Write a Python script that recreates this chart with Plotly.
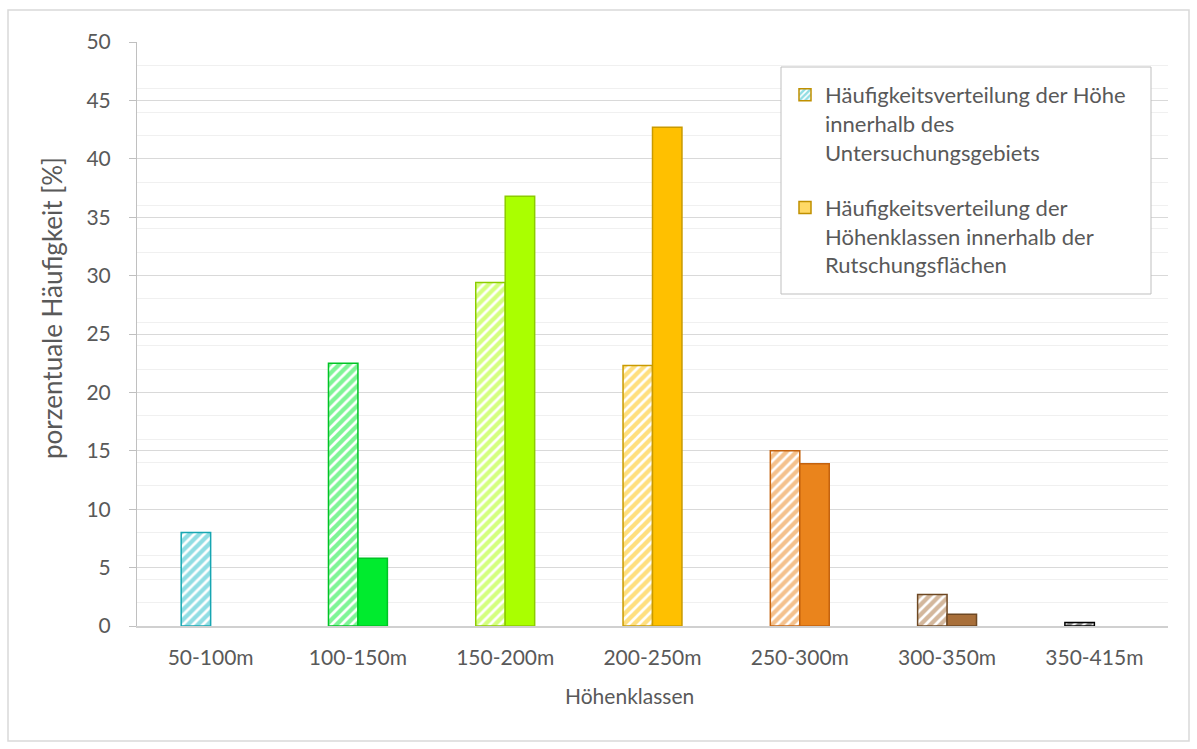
import plotly.graph_objects as go

# Höhenklassen (elevation classes) and the two frequency distributions in %
klassen = ["50-100m", "100-150m", "150-200m", "200-250m", "250-300m", "300-350m", "350-415m"]
gebiet = [8.0, 22.5, 29.4, 22.3, 15.0, 2.7, 0.3]      # whole study area
rutschung = [0.0, 5.8, 36.8, 42.7, 13.9, 1.0, 0.0]    # landslide areas

# one colour per elevation class (fill / outline)
fill_colors = ["#21BCC8", "#00EB2E", "#AAFF00", "#FFC000", "#EA841C", "#A86F3A", "#1A1A1A"]
line_colors = ["#17A6B2", "#00C425", "#8CCC00", "#C99A00", "#C4620E", "#6E4823", "#000000"]

legend_names = [
    "Häufigkeitsverteilung der Höhe<br>innerhalb des<br>Untersuchungsgebiets",
    "Häufigkeitsverteilung der<br>Höhenklassen innerhalb der<br>Rutschungsflächen",
]

FONT = "Lato"
TXT = "#595959"
W, H = 1197, 749
L, R, T, B = 137, 1168, 42, 626


def px_x(p):
    return (p - L) / (R - L)


def px_y(p):
    return (B - p) / (B - T)


hatch = dict(shape="/", bgcolor="white", size=7, solidity=0.62, fillmode="overlay")

fig = go.Figure()

fig.add_trace(go.Bar(
    x=klassen, y=[v if v else None for v in gebiet], offsetgroup="a",
    marker=dict(color="white",
                line=dict(color=line_colors, width=1.5),
                pattern=dict(fgcolor=fill_colors, **hatch)),
    showlegend=False, hoverinfo="x+y",
))
fig.add_trace(go.Bar(
    x=klassen, y=[v if v else None for v in rutschung], offsetgroup="b",
    marker=dict(color=fill_colors, line=dict(color=line_colors, width=1.5)),
    showlegend=False, hoverinfo="x+y",
))

# legend entries
fig.add_trace(go.Bar(
    x=[klassen[0]], y=[None], name=legend_names[0], legendgroup="a", offsetgroup="a",
    marker=dict(color="white", line=dict(color="#C09000", width=1.5),
                pattern=dict(fgcolor="#21BCC8", **{**hatch, "size": 5})),
))
fig.add_trace(go.Bar(
    x=[klassen[0]], y=[None], name=legend_names[1], legendgroup="b", offsetgroup="b",
    marker=dict(color="#FFD966", line=dict(color="#C09000", width=1.5)),
))

fig.update_layout(
    width=W, height=H,
    margin=dict(l=L, r=W - R, t=T, b=H - B),
    paper_bgcolor="white", plot_bgcolor="white",
    font=dict(family=FONT, size=21, color=TXT),
    barmode="group", bargap=0.6, bargroupgap=0,
    legend=dict(
        x=px_x(785), y=px_y(74), xanchor="left", yanchor="top",
        bgcolor="rgba(0,0,0,0)", borderwidth=0,
        font=dict(family=FONT, size=22, color=TXT),
        tracegroupgap=24, traceorder="grouped", valign="top",
    ),
    xaxis=dict(
        showline=True, linecolor="#D0D0D0", linewidth=1.5,
        ticks="", ticklabelstandoff=12, showgrid=False,
        tickfont=dict(family=FONT, size=21, color=TXT),
    ),
    yaxis=dict(
        range=[0, 50], dtick=5, tick0=0,
        showline=True, linecolor="#C0C0C0", linewidth=1,
        ticks="outside", ticklen=7, tickcolor="#C0C0C0",
        ticklabelstandoff=14,
        showgrid=True, gridcolor="#D9D9D9", gridwidth=1,
        minor=dict(dtick=2, tick0=0, showgrid=True, gridcolor="#F0F0F0", ticks=""),
        zeroline=False,
        tickfont=dict(family=FONT, size=21, color=TXT),
    ),
    annotations=[
        dict(text="Höhenklassen", xref="paper", yref="paper",
             x=px_x(629), y=px_y(695), xanchor="center", yanchor="middle",
             showarrow=False, font=dict(family=FONT, size=21, color=TXT)),
        dict(text="porzentuale Häufigkeit [%]", xref="paper", yref="paper",
             x=px_x(52), y=px_y(308), xanchor="center", yanchor="middle",
             textangle=-90, showarrow=False, font=dict(family=FONT, size=26, color=TXT)),
    ],
    shapes=[
        # chart frame
        dict(type="rect", xref="paper", yref="paper",
             x0=px_x(8), x1=px_x(1189), y0=px_y(741), y1=px_y(10),
             line=dict(color="#D9D9D9", width=1.5), fillcolor="rgba(0,0,0,0)", layer="below"),
        # legend frame
        dict(type="rect", xref="paper", yref="paper",
             x0=px_x(781), x1=px_x(1151), y0=px_y(294), y1=px_y(67),
             line=dict(color="#BFBFBF", width=1), fillcolor="white", layer="above"),
    ],
)

fig.write_html("out.html")
